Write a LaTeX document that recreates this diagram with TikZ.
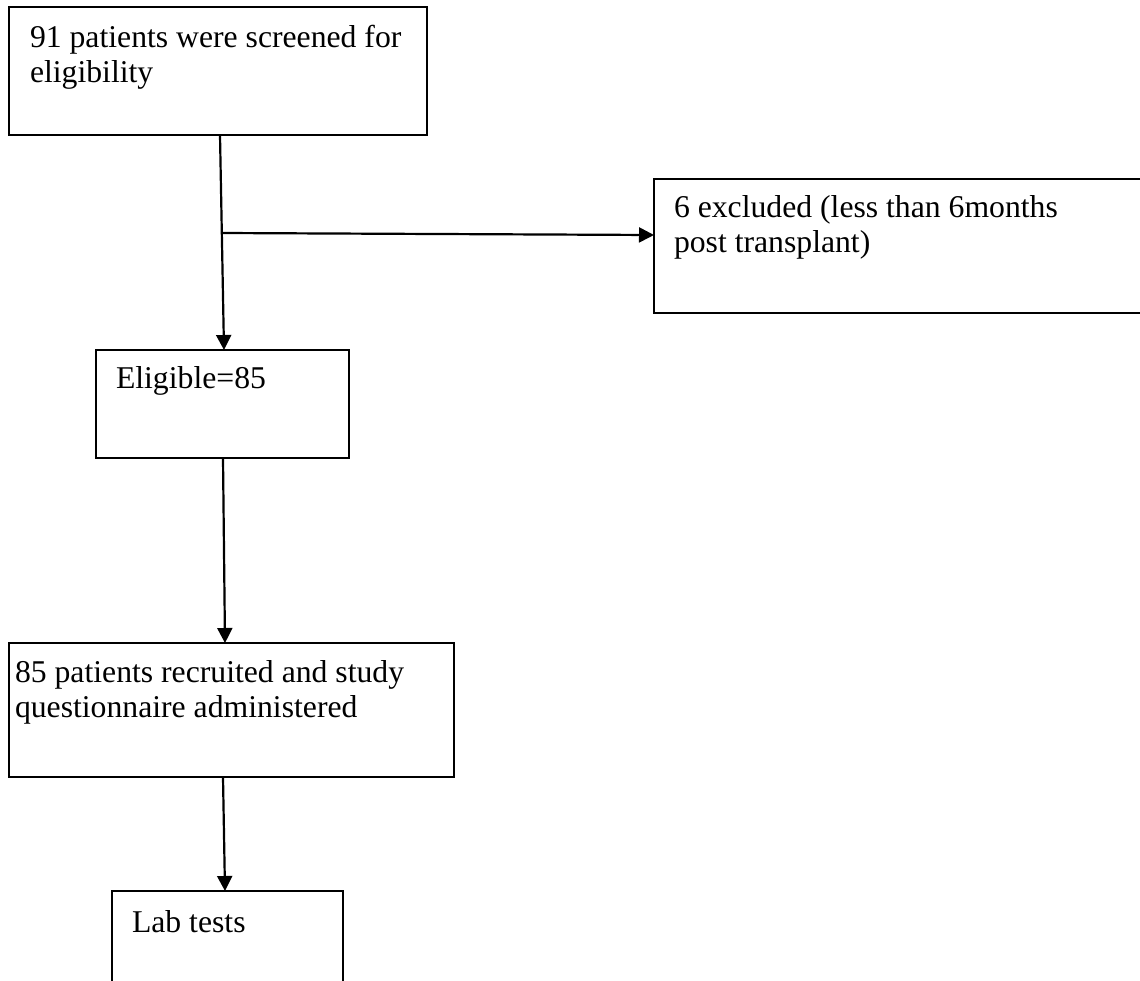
\documentclass[tikz,border=0pt]{standalone}
\usepackage{fontspec}
\setmainfont{Liberation Serif}
\usetikzlibrary{arrows.meta,calc}
\tikzset{
  box/.style={draw=black, line width=2pt, rectangle, anchor=north west, inner sep=0pt, outer sep=0pt},
  lbl/.style={anchor=base west, inner sep=0pt, outer sep=0pt, font=\fontsize{31.7}{35}\selectfont, align=left},
  conn/.style={line width=2.2pt, -{Triangle[length=15pt,width=15pt]}},
  plain/.style={line width=2.2pt}
}
\begin{document}
\begin{tikzpicture}[x=1pt,y=-1pt]
\useasboundingbox (0,0) rectangle (1140,980);
\clip (0,0) rectangle (1140,980);
% boxes
\node[box, minimum width=418pt, minimum height=128pt] (b1) at (9,7) {};
\node[box, minimum width=520pt, minimum height=134pt] (b2) at (654,179) {};
\node[box, minimum width=253pt, minimum height=108pt] (b3) at (96,350) {};
\node[box, minimum width=445pt, minimum height=134pt] (b4) at (9,643) {};
\node[box, minimum width=231pt, minimum height=140pt] (b5) at (112,891) {};
% texts
\node[lbl] (t1a) at (30,47) {91 patients were screened for};
\node[lbl] (t1b) at (30,82) {eligibility};
\node[lbl] (t2a) at (674,217) {6 excluded (less than 6months};
\node[lbl] (t2b) at (674,252) {post transplant)};
\node[lbl] (t3) at (116,388) {Eligible=85};
\node[lbl] (t4a) at (15,682) {85 patients recruited and study};
\node[lbl] (t4b) at (15,717) {questionnaire administered};
\node[lbl] (t5) at (132,932) {Lab tests};
% connectors
\coordinate (s1) at ($(b1.south west)+(211,0)$);
\coordinate (e1) at ($(b3.north west)+(128,0)$);
\coordinate (br) at (222,233);
\coordinate (e2) at ($(b2.north west)+(0,56)$);
\coordinate (s3) at ($(b3.south west)+(127,0)$);
\coordinate (e3) at ($(b4.north west)+(216,0)$);
\coordinate (s4) at ($(b4.south west)+(214,0)$);
\coordinate (e4) at ($(b5.north west)+(113,0)$);
\draw[conn] (s1) -- (e1);
\draw[conn] (br) -- (e2);
\draw[conn] (s3) -- (e3);
\draw[conn] (s4) -- (e4);
\end{tikzpicture}
\end{document}
